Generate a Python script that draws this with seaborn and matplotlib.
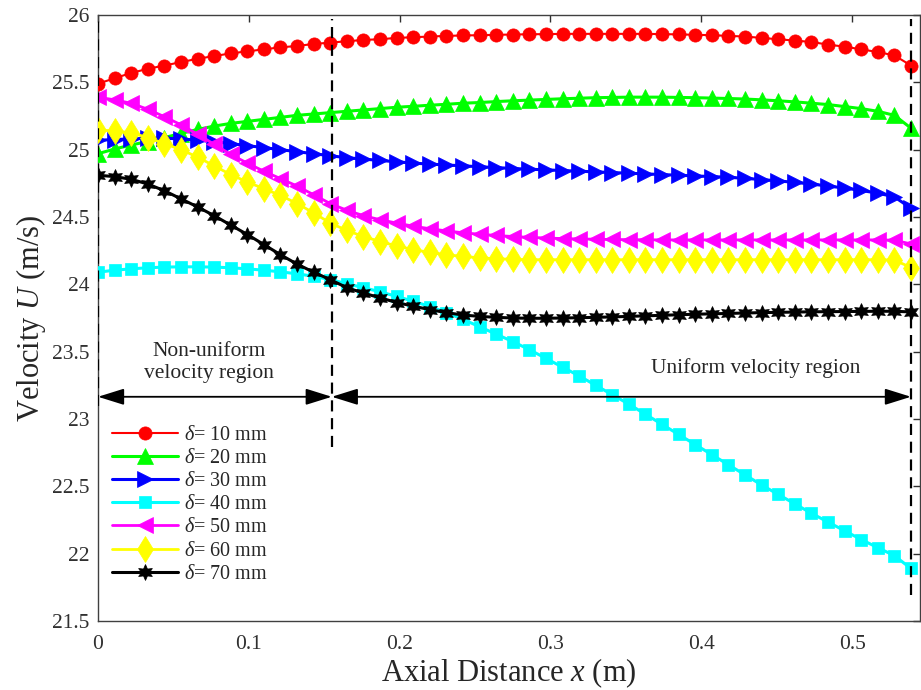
import numpy as np
import pandas as pd
import matplotlib
matplotlib.use("Agg")
import matplotlib.pyplot as plt
import seaborn as sns

# ---------------- data ----------------
n_pts = 50
x_step = 0.011
x_vals = np.round(np.arange(n_pts) * x_step, 3)

d10 = [25.49, 25.53, 25.57, 25.60, 25.625, 25.65, 25.675, 25.695, 25.715, 25.73,
       25.745, 25.76, 25.77, 25.785, 25.795, 25.805, 25.815, 25.82, 25.83, 25.835,
       25.84, 25.845, 25.848, 25.85, 25.853, 25.855, 25.857, 25.858, 25.86, 25.86,
       25.86, 25.86, 25.86, 25.86, 25.858, 25.856, 25.853, 25.85, 25.845, 25.84,
       25.83, 25.82, 25.81, 25.80, 25.78, 25.765, 25.745, 25.725, 25.70, 25.625]
d20 = [24.97, 25.005, 25.035, 25.06, 25.09, 25.12, 25.15, 25.175, 25.195, 25.21,
       25.225, 25.24, 25.255, 25.265, 25.275, 25.285, 25.295, 25.305, 25.315, 25.322,
       25.33, 25.337, 25.345, 25.35, 25.357, 25.363, 25.368, 25.373, 25.378, 25.382,
       25.386, 25.388, 25.39, 25.39, 25.39, 25.388, 25.386, 25.383, 25.38, 25.376,
       25.37, 25.363, 25.355, 25.345, 25.335, 25.32, 25.305, 25.285, 25.255, 25.16]
d30 = [25.07, 25.075, 25.08, 25.085, 25.085, 25.08, 25.07, 25.06, 25.045, 25.03,
       25.015, 25.0, 24.985, 24.97, 24.955, 24.94, 24.93, 24.92, 24.91, 24.90,
       24.893, 24.886, 24.88, 24.873, 24.867, 24.86, 24.855, 24.85, 24.845, 24.84,
       24.835, 24.83, 24.825, 24.82, 24.815, 24.81, 24.805, 24.80, 24.795, 24.787,
       24.778, 24.768, 24.757, 24.745, 24.73, 24.715, 24.697, 24.677, 24.65, 24.565]
d40 = [24.09, 24.105, 24.115, 24.123, 24.128, 24.13, 24.13, 24.128, 24.123, 24.115,
       24.105, 24.093, 24.078, 24.06, 24.035, 24.005, 23.975, 23.945, 23.91, 23.875,
       23.835, 23.79, 23.74, 23.685, 23.63, 23.575, 23.515, 23.45, 23.385, 23.32,
       23.25, 23.18, 23.11, 23.035, 22.96, 22.885, 22.81, 22.735, 22.66, 22.585,
       22.51, 22.44, 22.37, 22.30, 22.235, 22.17, 22.105, 22.045, 21.985, 21.89]
d50 = [25.39, 25.37, 25.345, 25.30, 25.245, 25.185, 25.115, 25.04, 24.965, 24.90,
       24.84, 24.785, 24.73, 24.665, 24.60, 24.55, 24.51, 24.48, 24.455, 24.432,
       24.413, 24.397, 24.383, 24.372, 24.363, 24.355, 24.349, 24.344, 24.34, 24.337,
       24.335, 24.333, 24.332, 24.331, 24.33, 24.33, 24.33, 24.33, 24.33, 24.33,
       24.33, 24.33, 24.33, 24.33, 24.33, 24.33, 24.33, 24.33, 24.328, 24.30]
d60 = [25.145, 25.14, 25.125, 25.09, 25.045, 25.0, 24.945, 24.88, 24.815, 24.76,
       24.71, 24.66, 24.60, 24.53, 24.455, 24.40, 24.355, 24.318, 24.285, 24.258,
       24.237, 24.22, 24.207, 24.197, 24.19, 24.186, 24.183, 24.183, 24.183, 24.183,
       24.183, 24.183, 24.183, 24.183, 24.183, 24.183, 24.183, 24.183, 24.183, 24.183,
       24.183, 24.183, 24.183, 24.183, 24.183, 24.183, 24.183, 24.183, 24.18, 24.125]
d70 = [24.81, 24.80, 24.78, 24.745, 24.695, 24.635, 24.575, 24.51, 24.44, 24.37,
       24.295, 24.22, 24.15, 24.09, 24.035, 23.975, 23.935, 23.90, 23.865, 23.838,
       23.812, 23.79, 23.772, 23.762, 23.755, 23.75, 23.748, 23.748, 23.75, 23.752,
       23.755, 23.758, 23.762, 23.766, 23.77, 23.774, 23.778, 23.781, 23.784, 23.787,
       23.79, 23.792, 23.794, 23.796, 23.797, 23.798, 23.799, 23.80, 23.80, 23.795]

labels = [r"$\delta$= 10 mm", r"$\delta$= 20 mm", r"$\delta$= 30 mm", r"$\delta$= 40 mm",
          r"$\delta$= 50 mm", r"$\delta$= 60 mm", r"$\delta$= 70 mm"]
series = [d10, d20, d30, d40, d50, d60, d70]

x_ticks = [0, 0.1, 0.2, 0.3, 0.4, 0.5]
x_ticklabels = ["0", "0.1", "0.2", "0.3", "0.4", "0.5"]
y_ticks = [21.5, 22, 22.5, 23, 23.5, 24, 24.5, 25, 25.5, 26]
y_ticklabels = ["21.5", "22", "22.5", "23", "23.5", "24", "24.5", "25", "25.5", "26"]

region_bounds = [0.0, 0.155, 0.539]

# ---------------- style ----------------
sns.set_style("white")
plt.rcParams["font.family"] = ["Liberation Serif", "DejaVu Serif"]
plt.rcParams["mathtext.fontset"] = "custom"
plt.rcParams["mathtext.rm"] = "Liberation Serif"
plt.rcParams["mathtext.it"] = "Liberation Serif:italic"
plt.rcParams["mathtext.bf"] = "Liberation Serif:bold"

colors = ["#ff0000", "#00ff00", "#0000ff", "#00ffff", "#ff00ff", "#ffff00", "#000000"]
markers = ["o", "^", ">", "s", "<", "d", (6, 1, 0)]
msizes = [9.5, 12, 12, 8.5, 12, 13, 11.5]
lws = [1.5, 2.2, 2.2, 2.2, 2.0, 2.0, 2.2]

fig = plt.figure(figsize=(9.21, 6.90), dpi=100)
ax = fig.add_axes([98 / 921, 69 / 690, 822 / 921, 606 / 690])

for ys, lab, c, m, ms, lw in zip(series, labels, colors, markers, msizes, lws):
    df = pd.DataFrame({"x": x_vals, "y": ys})
    sns.lineplot(data=df, x="x", y="y", ax=ax, color=c, marker=m, markersize=ms,
                 markeredgecolor=c, markerfacecolor=c, markeredgewidth=0.5,
                 linewidth=lw, label=lab, zorder=3)

# vertical dashed boundary lines
vl_kw = dict(color="k", lw=1.6, dashes=(5, 3), zorder=4)
ax.plot([region_bounds[0]] * 2, [23.1, 25.96], **vl_kw)
ax.plot([region_bounds[1]] * 2, [22.79, 25.97], **vl_kw)
ax.plot([region_bounds[2]] * 2, [21.69, 25.97], **vl_kw)

# double-headed arrows
arr_y = 23.165
ap = dict(arrowstyle="<|-|>,head_length=0.8,head_width=0.25", color="k", lw=1.3,
          mutation_scale=20, shrinkA=0, shrinkB=0)
ax.annotate("", xy=(region_bounds[0], arr_y), xytext=(region_bounds[1], arr_y), arrowprops=ap)
ax.annotate("", xy=(region_bounds[1], arr_y), xytext=(region_bounds[2], arr_y), arrowprops=ap)

ax.text(0.0737, 23.42, "Non-uniform\nvelocity region", ha="center", va="center",
        fontsize=15.5, linespacing=1.25)
ax.text(0.436, 23.38, "Uniform velocity region", ha="center", va="center", fontsize=15.5)

ax.set_xlim(0, 0.545)
ax.set_ylim(21.5, 26)
ax.set_xticks(x_ticks)
ax.set_xticklabels(x_ticklabels)
ax.set_yticks(y_ticks)
ax.set_yticklabels(y_ticklabels)
ax.tick_params(direction="in", length=5, width=1, top=True, right=True,
               labelsize=15.5, colors="#303030")
ax.tick_params(axis="x", pad=10)
ax.tick_params(axis="y", pad=6)
for s in ax.spines.values():
    s.set_color("#404040")
    s.set_linewidth(1.0)

ax.set_xlabel("Axial Distance $x$ (m)", fontsize=22, color="#262626", labelpad=2)
ax.set_ylabel("Velocity $U$ (m/s)", fontsize=22, color="#262626", labelpad=3)

leg = ax.legend(loc="upper left", bbox_to_anchor=(0.017, 0.322), frameon=False,
                fontsize=14.5, handlelength=3.3, handletextpad=0.3, labelspacing=0.2,
                borderpad=0, borderaxespad=0)

fig.savefig("out.png", dpi=100)
